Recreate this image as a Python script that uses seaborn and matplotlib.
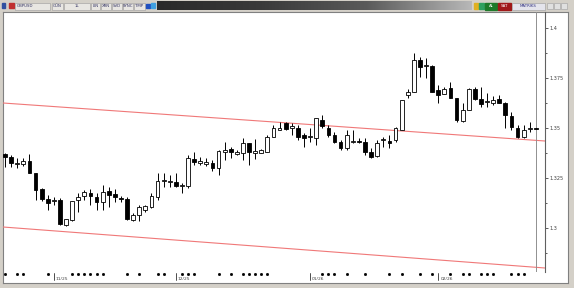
import numpy as np
import pandas as pd
import matplotlib
matplotlib.use("Agg")
import matplotlib.pyplot as plt
import seaborn as sns
from matplotlib.patches import Rectangle
import matplotlib.transforms as mtransforms

sns.set_style("white")
plt.rcParams['font.family'] = ['DejaVu Sans']

# ---------------- data (GBPUSD daily candles) ----------------
opens = [1.3370, 1.3355, 1.3320, 1.3320, 1.3335, 1.3275, 1.3195, 1.3145, 1.3135, 1.3140,
         1.3015, 1.3040, 1.3140, 1.3160, 1.3175, 1.3155, 1.3130, 1.3185, 1.3170, 1.3150,
         1.3145, 1.3040, 1.3065, 1.3090, 1.3105, 1.3155, 1.3235, 1.3230, 1.3230, 1.3210,
         1.3210, 1.3345, 1.3325, 1.3320, 1.3325, 1.3300, 1.3380, 1.3395, 1.3370, 1.3375,
         1.3425, 1.3375, 1.3375, 1.3380, 1.3455, 1.3490, 1.3525, 1.3500, 1.3500, 1.3465,
         1.3455, 1.3450, 1.3540, 1.3500, 1.3465, 1.3430, 1.3400, 1.3430, 1.3435, 1.3430,
         1.3380, 1.3360, 1.3440, 1.3435, 1.3440, 1.3490, 1.3665, 1.3680, 1.3840, 1.3810,
         1.3810, 1.3690, 1.3670, 1.3700, 1.3650, 1.3535, 1.3590, 1.3695, 1.3645, 1.3630,
         1.3625, 1.3645, 1.3625, 1.3560, 1.3500, 1.3455, 1.3495, 1.3500]
highs = [1.3375, 1.3365, 1.3350, 1.3350, 1.3370, 1.3275, 1.3200, 1.3165, 1.3155, 1.3150,
         1.3045, 1.3135, 1.3175, 1.3190, 1.3195, 1.3175, 1.3215, 1.3205, 1.3195, 1.3160,
         1.3155, 1.3075, 1.3115, 1.3115, 1.3175, 1.3275, 1.3275, 1.3265, 1.3275, 1.3225,
         1.3365, 1.3380, 1.3355, 1.3350, 1.3340, 1.3390, 1.3430, 1.3405, 1.3390, 1.3450,
         1.3425, 1.3445, 1.3395, 1.3465, 1.3515, 1.3530, 1.3530, 1.3525, 1.3515, 1.3475,
         1.3500, 1.3550, 1.3565, 1.3515, 1.3480, 1.3440, 1.3490, 1.3490, 1.3450, 1.3450,
         1.3400, 1.3440, 1.3455, 1.3465, 1.3505, 1.3640, 1.3695, 1.3875, 1.3855, 1.3850,
         1.3815, 1.3715, 1.3705, 1.3730, 1.3650, 1.3625, 1.3700, 1.3705, 1.3705, 1.3675,
         1.3660, 1.3665, 1.3630, 1.3580, 1.3515, 1.3515, 1.3530, 1.3500]
lows = [1.3305, 1.3305, 1.3300, 1.3310, 1.3275, 1.3140, 1.3135, 1.3090, 1.3115, 1.3015,
        1.3010, 1.3035, 1.3080, 1.3140, 1.3115, 1.3090, 1.3090, 1.3105, 1.3130, 1.3130,
        1.3040, 1.3035, 1.3035, 1.3080, 1.3100, 1.3140, 1.3205, 1.3205, 1.3205, 1.3175,
        1.3200, 1.3315, 1.3315, 1.3310, 1.3285, 1.3265, 1.3340, 1.3350, 1.3365, 1.3340,
        1.3315, 1.3345, 1.3375, 1.3380, 1.3455, 1.3490, 1.3490, 1.3465, 1.3440, 1.3405,
        1.3430, 1.3415, 1.3500, 1.3455, 1.3425, 1.3390, 1.3390, 1.3425, 1.3425, 1.3365,
        1.3350, 1.3355, 1.3405, 1.3400, 1.3430, 1.3490, 1.3650, 1.3680, 1.3755, 1.3750,
        1.3680, 1.3625, 1.3670, 1.3650, 1.3530, 1.3530, 1.3590, 1.3640, 1.3605, 1.3605,
        1.3615, 1.3625, 1.3500, 1.3490, 1.3450, 1.3450, 1.3480, 1.3495]
closes = [1.3355, 1.3325, 1.3325, 1.3335, 1.3275, 1.3190, 1.3145, 1.3125, 1.3140, 1.3020,
          1.3045, 1.3135, 1.3155, 1.3180, 1.3160, 1.3130, 1.3180, 1.3165, 1.3155, 1.3145,
          1.3045, 1.3065, 1.3105, 1.3110, 1.3160, 1.3235, 1.3240, 1.3235, 1.3210, 1.3215,
          1.3350, 1.3330, 1.3335, 1.3330, 1.3300, 1.3385, 1.3390, 1.3380, 1.3380, 1.3425,
          1.3380, 1.3385, 1.3390, 1.3455, 1.3500, 1.3500, 1.3495, 1.3510, 1.3455, 1.3450,
          1.3460, 1.3550, 1.3510, 1.3465, 1.3430, 1.3400, 1.3465, 1.3435, 1.3430, 1.3380,
          1.3355, 1.3425, 1.3445, 1.3425, 1.3500, 1.3640, 1.3680, 1.3840, 1.3805, 1.3815,
          1.3680, 1.3665, 1.3695, 1.3650, 1.3540, 1.3590, 1.3695, 1.3645, 1.3620, 1.3635,
          1.3640, 1.3625, 1.3565, 1.3505, 1.3455, 1.3490, 1.3500, 1.3495]

# channel lines: prices at the left and right edges of the plot
channel_upper = [1.3625, 1.3435]
channel_lower = [1.3005, 1.2800]

price_ticks = [1.3, 1.325, 1.35, 1.375, 1.4]
price_labels = ["1.3", "1.325", "1.35", "1.375", "1.4"]
month_idx = [8, 28, 50, 71]
month_labels = ["11/25", "12/25", "01/26", "02/26"]
day_marks = [0, 2, 3, 7, 11, 12, 13, 14, 15, 16, 20, 22, 25, 26, 29, 30, 31, 35, 37, 39,
             40, 41, 42, 43, 52, 53, 54, 56, 59, 63, 65, 68, 70, 73, 75, 76, 78, 79, 80,
             83, 84, 85]
toolbar_items = ["GBPUSD", "GÜN", "1L", "LIN", "XRN", "SVD", "SYNC", "TMP"]

df = pd.DataFrame({"open": opens, "high": highs, "low": lows, "close": closes})
df["idx"] = np.arange(len(df))
df["up"] = df["close"] >= df["open"]
df["body_lo"] = df[["open", "close"]].min(axis=1)
df["body_h"] = (df["close"] - df["open"]).abs()

# ---------------- figure ----------------
W, H = 574, 288
fig = plt.figure(figsize=(W / 100, H / 100), dpi=100)
fig.patch.set_facecolor("#d4d0c8")


def fr(x0, y0, x1, y1):
    return [x0 / W, 1 - y1 / H, (x1 - x0) / W, (y1 - y0) / H]


XL = (-0.33, 88.5)
YL = (1.278, 1.408)

# white panel behind chart + price scale + time axis
bg = fig.add_axes(fr(3, 12, 568, 283))
bg.set_facecolor("white")
bg.set_xticks([]); bg.set_yticks([])
for s in bg.spines.values():
    s.set_color("#808080"); s.set_linewidth(0.8)

ax = fig.add_axes(fr(3, 12, 545, 272))
ax.set_facecolor("none")
ax.set_xlim(*XL)
ax.set_ylim(*YL)

# channel lines via seaborn
sns.lineplot(x=list(XL), y=channel_upper, ax=ax, color="#f07878", lw=0.8)
sns.lineplot(x=list(XL), y=channel_lower, ax=ax, color="#f07878", lw=0.8)

# wicks
ax.vlines(df["idx"], df["low"], df["high"], color="black", lw=0.7, zorder=3)
# bodies
ax.bar(df["idx"], df["body_h"], bottom=df["body_lo"], width=0.62,
       color=np.where(df["up"], "white", "black"), edgecolor="black",
       linewidth=0.6, zorder=4)

# current bar marker
ax.axvline(len(df) - 1, color="#909090", lw=0.7, zorder=2)

for s in ["top", "left", "bottom"]:
    ax.spines[s].set_visible(False)
ax.spines["right"].set_color("#606060")
ax.spines["right"].set_linewidth(0.8)

ax.yaxis.tick_right()
ax.set_yticks(price_ticks)
ax.set_yticklabels(price_labels)
ax.set_yticks(np.arange(1.2875, 1.41, 0.0125), minor=True)
ax.tick_params(axis="y", which="major", length=2, width=0.6, pad=1,
               labelsize=3.6, colors="#404040", direction="out")
ax.tick_params(axis="y", which="minor", length=1.2, width=0.6, colors="#404040")
ax.set_xticks([])

# time axis marks
trans = mtransforms.blended_transform_factory(ax.transData, ax.transAxes)
ax.plot(day_marks, [-0.008] * len(day_marks), ls="none", marker="s", ms=1.0,
        color="black", transform=trans, clip_on=False)
for i, lab in zip(month_idx, month_labels):
    ax.plot([i, i], [-0.002, -0.03], color="#303030", lw=0.6, transform=trans, clip_on=False)
    ax.text(i + 0.35, -0.028, lab, transform=trans, fontsize=3.2, color="#404040",
            va="center", ha="left")

# ---------------- toolbar ----------------
tb = fig.add_axes([0, 1 - 12 / H, 1, 12 / H])
tb.set_facecolor("#d4d0c8")
tb.axis("off")
grad = np.linspace(0, 1, 256)[None, :]
tb.imshow(grad, extent=(157, 472, 10.5, 1.5), aspect="auto", zorder=0,
          cmap=matplotlib.colors.LinearSegmentedColormap.from_list(
              "g", ["#2a2a2a", "#3a3a3a", "#5a5a5a", "#b8b8b8"]))
tb.set_xlim(0, W); tb.set_ylim(12, 0)
tb.add_patch(Rectangle((2, 3), 3, 5, color="#3050a0"))
tb.add_patch(Rectangle((9, 3), 5, 5, color="#c03030"))
boxes = [(15, 50), (52, 63), (64, 90), (91, 100), (101, 111), (112, 122), (123, 133), (134, 145)]
for (x0, x1), lab in zip(boxes, toolbar_items):
    tb.add_patch(Rectangle((x0, 2.5), x1 - x0, 7, facecolor="#e8e6e2", edgecolor="#9a9a9a", lw=0.4))
    tb.text((x0 + x1) / 2 if lab != "GBPUSD" else x0 + 2, 6.3, lab, fontsize=2.8,
            color="#303060", ha="center" if lab != "GBPUSD" else "left", va="center")
tb.add_patch(Rectangle((146, 4), 4, 4, color="#2050c0"))
tb.add_patch(Rectangle((151, 3), 4, 5, color="#40a0e0"))
tb.add_patch(Rectangle((474, 3), 4, 6, color="#e0b020"))
tb.add_patch(Rectangle((479, 3), 5, 6, color="#30a060"))
tb.add_patch(Rectangle((485, 2.5), 12, 7, color="#1e7a2a"))
tb.text(491, 6.2, "AL", fontsize=2.8, color="white", ha="center", va="center")
tb.add_patch(Rectangle((498, 2.5), 13, 7, color="#a01818"))
tb.text(504.5, 6.2, "SAT", fontsize=2.8, color="white", ha="center", va="center")
tb.add_patch(Rectangle((512, 2.5), 33, 7, facecolor="#e4e4ec", edgecolor="#9a9a9a", lw=0.4))
tb.text(528.5, 6.2, "MATRIKS", fontsize=2.8, color="#303080", ha="center", va="center")
for x0 in (547, 554, 561):
    tb.add_patch(Rectangle((x0, 3), 6, 6, facecolor="#e0e0e0", edgecolor="#a0a0a0", lw=0.4))

fig.savefig("out.png", dpi=100, facecolor=fig.get_facecolor())
